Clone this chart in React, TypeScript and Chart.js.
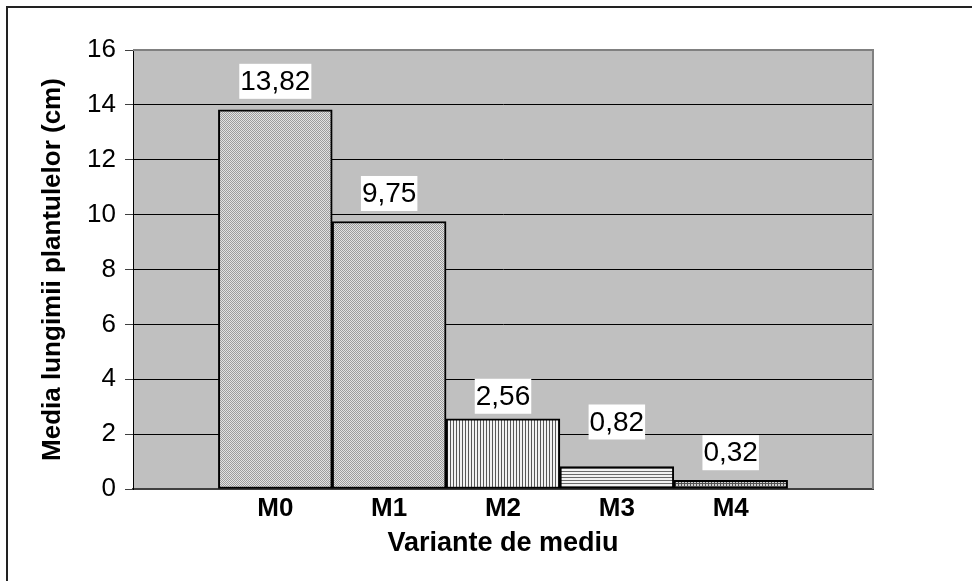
import { useEffect, useRef } from 'react';
import { Chart, registerables } from 'chart.js';

Chart.register(...registerables);

// ---- data ----
const categories = ['M0', 'M1', 'M2', 'M3', 'M4'];
const values = [13.82, 9.75, 2.56, 0.82, 0.32];
const valueLabels = ['13,82', '9,75', '2,56', '0,82', '0,32'];
const yTickMin = 0;
const yTickMax = 16;
const yTickStep = 2;
const xTitle = 'Variante de mediu';
const yTitle = 'Media lungimii plantulelor (cm)';

// ---- styling ----
const FONT = "'Liberation Sans', Arial, Helvetica, sans-serif";
const patternKinds = ['fine', 'fine', 'vert', 'horiz', 'grid'];
const labelLift = [11, 10.5, 5, 27, 10]; // gap between bar top and label box (px), as placed in the original

function makePattern(kind: string): CanvasPattern | string {
  const c = document.createElement('canvas');
  let size = 3;
  if (kind === 'fine') size = 4;
  c.width = size;
  c.height = size;
  const g = c.getContext('2d');
  if (!g) return '#c0c0c0';
  if (kind === 'fine') {
    g.fillStyle = '#e2e2e2';
    g.fillRect(0, 0, 4, 4);
    g.fillStyle = '#9c9c9c';
    for (let i = 0; i < 4; i++) {
      g.fillRect(i, i, 1, 1);
      g.fillRect(i, (i + 2) % 4, 1, 1);
    }
  } else if (kind === 'vert') {
    g.fillStyle = '#f2f2f2';
    g.fillRect(0, 0, 3, 3);
    g.fillStyle = '#585858';
    g.fillRect(0, 0, 1, 3);
  } else if (kind === 'horiz') {
    g.fillStyle = '#f2f2f2';
    g.fillRect(0, 0, 3, 3);
    g.fillStyle = '#6a6a6a';
    g.fillRect(0, 0, 3, 1);
  } else {
    g.fillStyle = '#cfcfcf';
    g.fillRect(0, 0, 3, 3);
    g.fillStyle = '#505050';
    g.fillRect(0, 0, 3, 1);
    g.fillRect(0, 0, 1, 3);
  }
  const p = g.createPattern(c, 'repeat');
  return p || '#c0c0c0';
}

const backgroundPlugin = {
  id: 'plotBackground',
  beforeDraw(chart: any) {
    const { ctx, chartArea } = chart;
    ctx.save();
    ctx.fillStyle = '#ffffff';
    ctx.fillRect(0, 0, chart.width, chart.height);
    ctx.fillStyle = '#c0c0c0';
    ctx.fillRect(chartArea.left, chartArea.top, chartArea.right - chartArea.left, chartArea.bottom - chartArea.top);
    ctx.restore();
  },
};

const labelPlugin = {
  id: 'valueLabels',
  afterDatasetsDraw(chart: any) {
    const ctx = chart.ctx;
    const meta = chart.getDatasetMeta(0);
    ctx.save();
    ctx.font = `28px ${FONT}`;
    ctx.textAlign = 'center';
    ctx.textBaseline = 'middle';
    meta.data.forEach((el: any, i: number) => {
      const txt = valueLabels[i];
      const w = ctx.measureText(txt).width;
      const bh = 35;
      const bottom = el.y - labelLift[i];
      ctx.fillStyle = '#ffffff';
      ctx.fillRect(el.x - w / 2 - 1, bottom - bh, w + 2, bh);
      ctx.fillStyle = '#000000';
      ctx.fillText(txt, el.x, bottom - bh / 2 + 1);
    });
    ctx.restore();
  },
};

const framePlugin = {
  id: 'frame',
  afterDraw(chart: any) {
    const { ctx, chartArea } = chart;
    ctx.save();
    // plot area frame (top & right)
    ctx.strokeStyle = '#808080';
    ctx.lineWidth = 2;
    ctx.beginPath();
    ctx.moveTo(chartArea.left, chartArea.top);
    ctx.lineTo(chartArea.right, chartArea.top);
    ctx.lineTo(chartArea.right, chartArea.bottom);
    ctx.stroke();
    // outer chart border
    ctx.strokeStyle = '#222222';
    ctx.lineWidth = 2;
    ctx.beginPath();
    ctx.moveTo(7, chart.height + 5);
    ctx.lineTo(7, 7);
    ctx.lineTo(chart.width + 5, 7);
    ctx.stroke();
    ctx.restore();
  },
};

export default function App() {
  const canvasRef = useRef<HTMLCanvasElement | null>(null);

  useEffect(() => {
    const canvas = canvasRef.current;
    if (!canvas) return;
    const yTicks: number[] = [];
    for (let v = yTickMin; v <= yTickMax; v += yTickStep) yTicks.push(v);

    const chart = new Chart(canvas, {
      type: 'bar',
      data: {
        datasets: [
          {
            data: values.map((v, i) => ({ x: i, y: v })),
            backgroundColor: patternKinds.map((k) => makePattern(k)) as any,
            borderColor: '#000000',
            borderWidth: 2,
            borderSkipped: false,
            barPercentage: 1,
            categoryPercentage: 1,
          } as any,
        ],
      },
      options: {
        animation: false,
        responsive: true,
        maintainAspectRatio: false,
        events: [],
        layout: { padding: { left: 20, top: 50, right: 99, bottom: 10 } },
        plugins: {
          legend: { display: false },
          tooltip: { enabled: false },
        },
        scales: {
          x: {
            type: 'linear',
            min: -1.25,
            max: 5.25,
            offset: false,
            grid: { display: false, drawTicks: false },
            border: { display: true, color: '#404040', width: 2 },
            afterBuildTicks(scale: any) {
              scale.ticks = categories.map((_, i) => ({ value: i }));
            },
            afterFit(scale: any) {
              scale.height = 82;
            },
            ticks: {
              autoSkip: false,
              maxRotation: 0,
              padding: 4,
              color: '#000000',
              font: { family: FONT, size: 26, weight: 'bold' },
              callback: (value: any) => categories[Math.round(Number(value))] ?? '',
            },
            title: {
              display: true,
              text: xTitle,
              color: '#000000',
              font: { family: FONT, size: 27, weight: 'bold' },
              padding: { top: 0, bottom: 11 },
            },
          },
          y: {
            min: yTickMin,
            max: yTickMax,
            afterBuildTicks(scale: any) {
              scale.ticks = yTicks.map((v) => ({ value: v }));
            },
            afterFit(scale: any) {
              scale.width = 113;
            },
            grid: {
              color: (c: any) => (c.tick && c.tick.value === yTickMax ? '#808080' : '#000000'),
              tickColor: '#404040',
              tickLength: 8,
              lineWidth: 1,
            },
            border: { display: true, color: '#000000', width: 1 },
            ticks: {
              padding: 9,
              color: '#000000',
              font: { family: FONT, size: 26 },
            },
            title: {
              display: true,
              text: yTitle,
              color: '#000000',
              font: { family: FONT, size: 26, weight: 'bold' },
              padding: { top: 17, bottom: 0 },
            },
          },
        },
      },
      plugins: [backgroundPlugin, labelPlugin, framePlugin],
    });
    return () => chart.destroy();
  }, []);

  return (
    <div style={{ position: 'absolute', left: 0, top: 0, width: 972, height: 581 }}>
      <canvas ref={canvasRef} />
    </div>
  );
}
